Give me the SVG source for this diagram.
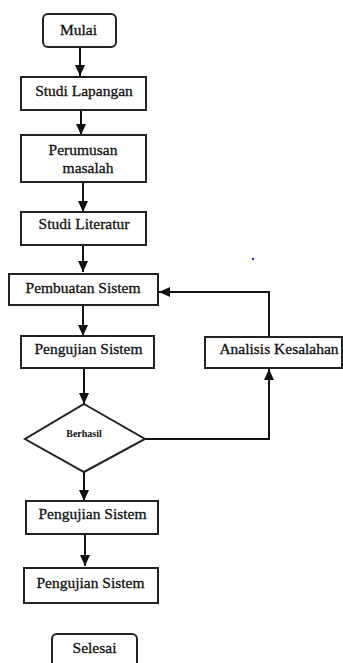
<svg xmlns="http://www.w3.org/2000/svg" width="343" height="663" viewBox="0 0 343 663">
<defs>
<marker id="ah" markerUnits="userSpaceOnUse" markerWidth="12" markerHeight="12" viewBox="0 0 12 12" refX="11" refY="6" orient="auto">
<path d="M0,1 L11,6 L0,11 Z" fill="#111"/>
</marker>
<style>
.box{fill:#fff;stroke:#222;stroke-width:2}
.t{font-size:15.5px;fill:#111;stroke:#111;stroke-width:0.3;text-anchor:middle}
.s{font-size:10px;font-weight:bold;fill:#111;text-anchor:middle}
.c{fill:none;stroke:#111;stroke-width:2;marker-end:url(#ah)}
</style>
</defs>
<rect width="343" height="663" fill="#fff"/>
<g id="connectors">
<path class="c" d="M80,47 V76"/>
<path class="c" d="M81,110 V135"/>
<path class="c" d="M83,182 V212"/>
<path class="c" d="M83,245 V272"/>
<path class="c" d="M83,305 V336"/>
<path class="c" d="M84,368 V404"/>
<path class="c" d="M84,472 V501"/>
<path class="c" d="M85,534 V566"/>
<path class="c" d="M269,337 V292 H159"/>
<path class="c" d="M145,439 H269 V369"/>
</g>
<g font-family="Liberation Serif, DejaVu Serif, Times New Roman, serif">
<g id="mulai"><rect class="box" x="43" y="14" width="73" height="33" rx="5"/><text class="t" x="78.5" y="35">Mulai</text></g>
<g id="studi-lapangan"><rect class="box" x="21" y="77" width="125" height="33"/><text class="t" x="84" y="96">Studi Lapangan</text></g>
<g id="perumusan"><rect class="box" x="21" y="135" width="125" height="47"/><text class="t" x="83" y="155">Perumusan</text><text class="t" x="88" y="173">masalah</text></g>
<g id="studi-literatur"><rect class="box" x="21" y="212" width="125" height="33"/><text class="t" x="84" y="229">Studi Literatur</text></g>
<g id="pembuatan"><rect class="box" x="9" y="274" width="149" height="31"/><text class="t" x="83" y="293">Pembuatan Sistem</text></g>
<g id="pengujian1"><rect class="box" x="21" y="336" width="133" height="32"/><text class="t" x="88.5" y="354">Pengujian Sistem</text></g>
<g id="analisis"><rect class="box" x="205" y="337" width="137" height="31"/><text class="t" x="279" y="354">Analisis Kesalahan</text></g>
<g id="berhasil"><polygon class="box" points="84,404 145,439 84,472 25,439"/><text class="s" x="84" y="437">Berhasil</text></g>
<g id="pengujian2"><rect class="box" x="26" y="501" width="132" height="33"/><text class="t" x="92.5" y="519">Pengujian Sistem</text></g>
<g id="pengujian3"><rect class="box" x="24" y="568" width="134" height="35"/><text class="t" x="90.5" y="588">Pengujian Sistem</text></g>
<g id="selesai"><rect class="box" x="52" y="634" width="85" height="40" rx="5"/><text class="t" x="94.5" y="653">Selesai</text></g>
</g>
<circle cx="253" cy="259" r="1.2" fill="#2233ee"/>
</svg>
